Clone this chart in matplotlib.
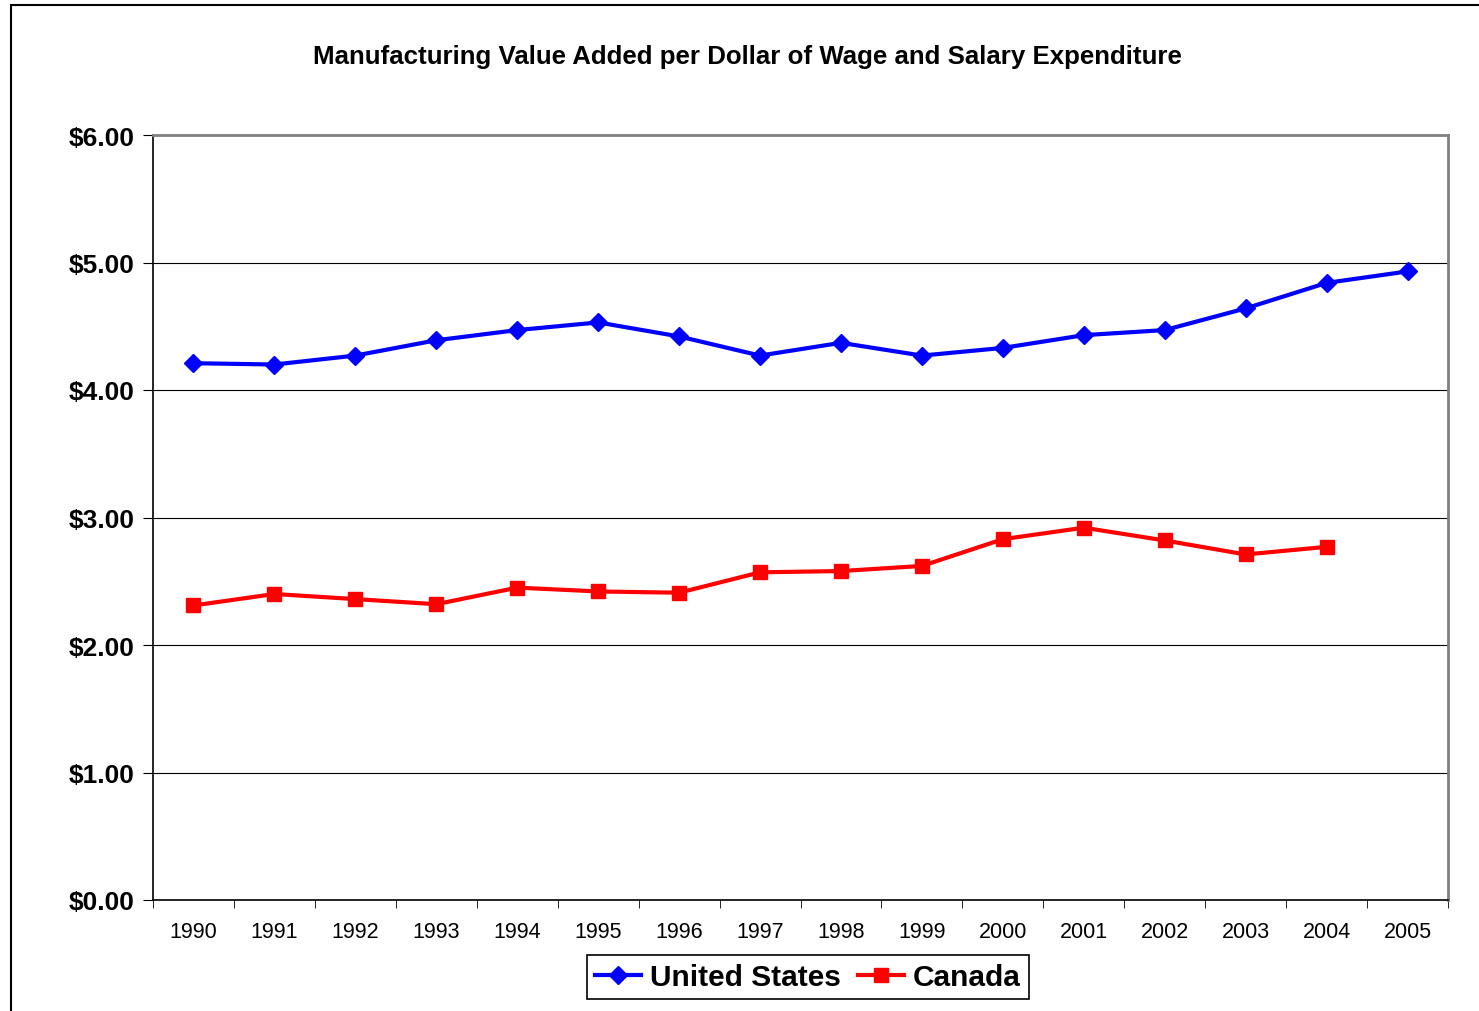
import numpy as np
import matplotlib.pyplot as plt
from matplotlib.patches import Rectangle

plt.rcParams['font.family'] = ['Liberation Sans', 'DejaVu Sans']

years = ['1990', '1991', '1992', '1993', '1994', '1995', '1996', '1997',
         '1998', '1999', '2000', '2001', '2002', '2003', '2004', '2005']
us = [4.21, 4.20, 4.27, 4.39, 4.47, 4.53, 4.42, 4.27,
      4.37, 4.27, 4.33, 4.43, 4.47, 4.64, 4.84, 4.93]
canada = [2.31, 2.40, 2.36, 2.32, 2.45, 2.42, 2.41, 2.57,
          2.58, 2.62, 2.83, 2.92, 2.82, 2.71, 2.77]

fig = plt.figure(figsize=(14.79, 10.12), dpi=100)
ax = fig.add_axes([153/1479, 111/1012, 1295/1479, 765/1012])

# chart border (runs off the right and bottom edge)
fig.patches.append(Rectangle((11/1479, -0.05), 1.1, 1 - 6/1012 + 0.05,
                             transform=fig.transFigure, fill=False,
                             edgecolor='black', linewidth=1.5))

x = np.arange(len(years))
ax.plot(x, us, color='#0000ff', lw=3, marker='D', ms=9, label='United States')
ax.plot(x[:len(canada)], canada, color='#ff0000', lw=3, marker='s', ms=10,
        label='Canada')

ax.set_xlim(-0.5, len(years) - 0.5)
ax.set_ylim(0, 6)
ax.set_yticks(np.arange(0, 7, 1))
ax.set_yticklabels([f'${v:.2f}' for v in range(7)], fontsize=19, fontweight='bold')
ax.set_xticks(x)
ax.set_xticklabels(years, fontsize=15.5)
ax.set_xticks(np.arange(-0.5, len(years)), minor=True)
ax.tick_params(axis='x', which='major', length=0, pad=15)
ax.tick_params(axis='x', which='minor', length=6, direction='out')
ax.tick_params(axis='y', length=7, direction='out', pad=6.5)
ax.grid(axis='y', color='black', lw=0.8)
ax.set_axisbelow(True)

for side in ['top', 'right']:
    ax.spines[side].set_color('#808080')
    ax.spines[side].set_linewidth(2)
for side in ['left', 'bottom']:
    ax.spines[side].set_linewidth(1.2)

fig.text(747/1479, 1 - 57/1012, 'Manufacturing Value Added per Dollar of Wage and Salary Expenditure',
         ha='center', va='center', fontsize=18.6, fontweight='bold')

leg = ax.legend(loc='center', bbox_to_anchor=(808/1479, 1 - 978/1012),
                bbox_transform=fig.transFigure, ncol=2, fancybox=False,
                edgecolor='black', framealpha=1, handlelength=1.55,
                handletextpad=0.3, columnspacing=0.55, borderpad=0.28,
                borderaxespad=0, prop={'size': 21.5, 'weight': 'bold'})
leg.get_frame().set_linewidth(1.2)

fig.savefig('out.png', dpi=100)
